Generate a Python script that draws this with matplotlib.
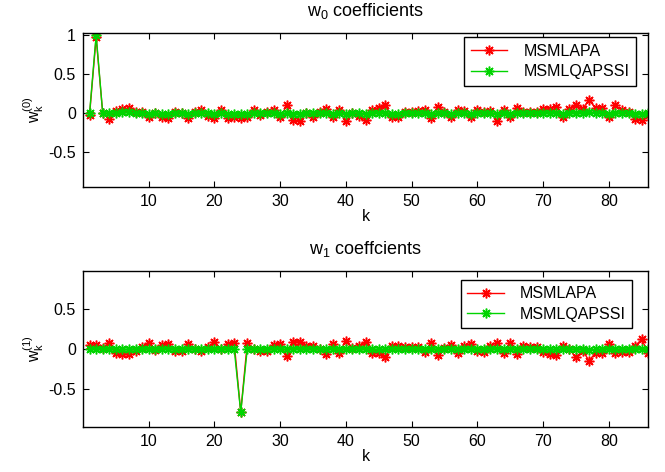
import numpy as np
import matplotlib
matplotlib.use("Agg")
import matplotlib.pyplot as plt
from matplotlib.ticker import FormatStrFormatter

plt.rcParams['font.family'] = ['Liberation Sans', 'DejaVu Sans']
plt.rcParams['mathtext.fontset'] = 'custom'
plt.rcParams['mathtext.rm'] = 'Liberation Sans'
plt.rcParams['mathtext.it'] = 'Liberation Sans:italic'
plt.rcParams['mathtext.default'] = 'regular'
plt.rcParams['axes.unicode_minus'] = False

# coefficient index
k = np.arange(1, 87)

# w0 coefficients, MSMLAPA
w0_apa = [-0.02, 0.97, 0.0, -0.07, 0.03, 0.05, 0.06, 0.02, 0.01, -0.055,
          0.0, -0.05, -0.06, 0.01, 0.0, -0.06, 0.01, 0.04, -0.04, -0.06,
          0.04, -0.06, -0.05, -0.06, -0.05, 0.04, -0.02, 0.01, 0.04, -0.055,
          0.10, -0.085, -0.10, 0.0, -0.045, 0.01, 0.055, -0.055, 0.04, -0.10,
          0.0, -0.04, -0.085, 0.04, 0.06, 0.10, -0.055, -0.055, 0.02, 0.01,
          0.03, 0.04, -0.065, 0.085, 0.02, -0.055, 0.04, 0.03, -0.055, 0.04,
          0.02, 0.03, -0.10, 0.04, -0.055, 0.07, 0.01, 0.02, 0.02, 0.055,
          0.055, 0.085, -0.055, 0.055, 0.10, 0.055, 0.167, 0.065, 0.07, -0.055,
          0.10, 0.04, 0.01, -0.07, -0.09, -0.02]

# w0 coefficients, MSMLQAPSSI
w0_qap = [0.0, 1.0, 0.0, 0.0, 0.005, 0.01, 0.01, 0.005, 0.0, -0.005,
          0.0, -0.005, -0.005, 0.0, 0.0, -0.005, 0.0, 0.005, 0.0, -0.005,
          0.005, -0.005, -0.005, -0.005, -0.005, 0.005, 0.0, 0.0, 0.005, -0.005,
          0.005, -0.005, -0.005, 0.0, 0.0, 0.0, 0.005, -0.005, 0.0, -0.005,
          0.0, 0.0, -0.005, 0.005, 0.005, 0.005, -0.005, -0.005, 0.0, 0.0,
          0.0, 0.005, -0.005, 0.005, 0.0, -0.005, 0.005, 0.0, -0.005, 0.0,
          0.0, 0.0, -0.005, 0.005, -0.005, 0.005, 0.0, 0.0, 0.0, 0.005,
          0.005, 0.005, -0.005, 0.005, 0.005, 0.005, 0.01, 0.005, 0.005, -0.005,
          0.005, 0.0, 0.0, -0.005, -0.005, 0.0]

# w1 coefficients, MSMLAPA
w1_apa = [0.05, 0.05, 0.01, 0.08, -0.055, -0.06, -0.065, -0.02, 0.02, 0.07,
          -0.01, 0.05, 0.06, -0.02, -0.02, 0.06, 0.0, -0.02, 0.02, 0.09,
          0.0, 0.06, 0.08, -0.79, 0.08, 0.0, -0.02, -0.03, 0.05, 0.06,
          -0.09, 0.09, 0.09, 0.04, 0.04, 0.0, -0.06, 0.06, -0.045, 0.10,
          0.01, 0.04, 0.09, -0.045, -0.055, -0.095, 0.04, 0.04, 0.02, 0.02,
          0.02, -0.035, 0.07, -0.075, 0.01, 0.05, -0.055, 0.04, 0.06, -0.02,
          -0.035, 0.04, 0.08, -0.045, 0.08, -0.065, 0.04, 0.03, 0.02, -0.035,
          -0.065, -0.075, 0.04, 0.0, -0.105, -0.02, -0.145, -0.045, -0.045, 0.06,
          -0.055, -0.035, -0.035, 0.04, 0.12, -0.045]

# w1 coefficients, MSMLQAPSSI
w1_qap = [0.005, 0.005, 0.0, 0.005, -0.005, -0.005, -0.005, 0.0, 0.0, 0.005,
          0.0, 0.005, 0.005, 0.0, 0.0, 0.005, 0.0, 0.0, 0.0, 0.005,
          0.0, 0.005, 0.005, -0.79, 0.005, 0.0, 0.0, 0.0, 0.005, 0.005,
          -0.005, 0.005, 0.005, 0.0, 0.0, 0.0, -0.005, 0.005, 0.0, 0.005,
          0.0, 0.0, 0.005, -0.005, -0.005, -0.005, 0.0, 0.0, 0.0, 0.0,
          0.0, 0.0, 0.005, -0.005, 0.0, 0.005, -0.005, 0.0, 0.005, 0.0,
          0.0, 0.0, 0.005, -0.005, 0.005, -0.005, 0.0, 0.0, 0.0, 0.0,
          -0.005, -0.005, 0.0, 0.0, -0.005, 0.0, -0.01, -0.005, -0.005, 0.005,
          -0.005, 0.0, 0.0, 0.0, 0.005, -0.005]

labels = ['MSMLAPA', 'MSMLQAPSSI']
red = '#ff0000'
green = '#00d400'
star = (8, 2, 0)  # 8-armed asterisk like matlab '*'
fs_tick = 11.5
fs_title = 13
fs_leg = 11.5

fig = plt.figure(figsize=(6.65, 4.72), dpi=100)
ax1 = fig.add_axes([0.1248, 0.6045, 0.850, 0.3263])
ax2 = fig.add_axes([0.1248, 0.0960, 0.850, 0.3300])


def draw(ax, y_apa, y_qap, ylim, yticks, title, ylabel, leg_anchor):
    for y, c, lab in [(y_apa, red, labels[0]), (y_qap, green, labels[1])]:
        ax.plot(k, y, color=c, marker=star, markersize=7, markeredgewidth=1.1,
                markeredgecolor=c, linewidth=1, label=lab)
    ax.set_xlim(0, 86)
    ax.set_ylim(*ylim)
    ax.set_xticks(np.arange(10, 90, 10))
    ax.set_yticks(yticks)
    ax.yaxis.set_major_formatter(FormatStrFormatter('%g'))
    ax.tick_params(direction='in', top=True, right=True, length=4, width=0.8,
                   labelsize=fs_tick, pad=5)
    for s in ax.spines.values():
        s.set_linewidth(1.0)
    ax.set_title(title, fontsize=fs_title, pad=12)
    ax.set_xlabel('k', fontsize=fs_tick, labelpad=0)
    ax.set_ylabel(ylabel, fontsize=fs_tick, labelpad=2)
    leg = ax.legend(loc='upper right', bbox_to_anchor=leg_anchor, fontsize=fs_leg,
                    fancybox=False, edgecolor='black', framealpha=1, numpoints=1,
                    handlelength=2.3, borderpad=0.4, labelspacing=0.35,
                    handletextpad=1.0, borderaxespad=0)
    leg.get_frame().set_linewidth(1.0)


draw(ax1, w0_apa, w0_qap, (-0.94, 1.03), [-0.5, 0, 0.5, 1],
     r'w$_0$ coefficients', r'$w_k^{(0)}$', (0.978, 0.970))
draw(ax2, w1_apa, w1_qap, (-0.97, 0.975), [-0.5, 0, 0.5],
     r'w$_1$ coeffcients', r'$w_k^{(1)}$', (0.972, 0.942))

fig.savefig('out.png', dpi=100)
